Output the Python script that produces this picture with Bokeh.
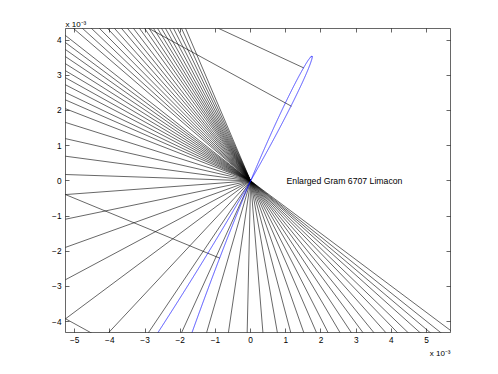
import numpy as np
from bokeh.plotting import figure
from bokeh.models import Range1d, LinearAxis, FixedTicker, Title
from bokeh.core.properties import value
from bokeh.embed import file_html
from bokeh.resources import INLINE

# ---------------- data (all lengths in units of 1e-3) ----------------
# directions (degrees) of the black rays leaving the node at the origin
fan_angles_deg = [
    113.10, 114.36, 115.59, 116.81, 118.00, 119.17, 120.29, 121.39, 122.48,
    123.67, 124.82, 126.07, 127.52, 128.91, 130.25, 131.75, 133.18, 134.74,
    136.22, 137.79, 139.28,
    141.86, 143.24, 144.65, 146.14, 147.67, 149.25, 150.88, 152.57, 154.49,
    156.38, 158.71, 162.48, 167.15, 172.42, 178.04, 184.24, 191.71, 199.77,
    208.11, 216.70,
    226.92, 236.06, 245.55, 253.83, 261.68, 268.70, 274.64, 280.00, 284.82,
    289.31, 293.46, 297.04, 300.51, 303.57, 306.51, 309.08, 311.70, 314.06,
    316.05, 318.14, 319.80, 321.40, 323.19,
]
# extra black segments: start point on the limacon and direction (degrees)
extra_x = [1.51, 1.16, -0.87, -3.13]
extra_y = [3.21, 2.12, -2.20, -5.09]
extra_angles_deg = [155.1, 151.35, 157.6, 151.2]

# limacon r = b + a*cos(phi), rotated
limacon_a = 2179.4
limacon_b = 2175.45
limacon_rot_deg = 63.8

x_lim = [-5.26, 5.68]
y_lim = [-4.31, 4.33]
x_ticks = [-5, -4, -3, -2, -1, 0, 1, 2, 3, 4, 5]
y_ticks = [-4, -3, -2, -1, 0, 1, 2, 3, 4]

title_text = "Enlarged Gram 6707 Limacon"
title_x = [1.02]
title_y = [0.0]
scale_text = "x 10\u207b\u00b3"

FONT = "Liberation Sans"
RAY_LEN = 40.0

# ---------------- figure ----------------
p = figure(width=490, height=366,
           x_range=Range1d(x_lim[0], x_lim[1]), y_range=Range1d(y_lim[0], y_lim[1]),
           output_backend="svg", toolbar_location=None,
           min_border_left=65, min_border_right=40,
           min_border_top=28, min_border_bottom=34,
           background_fill_color="white", border_fill_color="white")
p.grid.visible = False
p.outline_line_color = None

def lbl(v):
    return ("\u2212%d" % (-v)) if v < 0 else "%d" % v

p.add_layout(LinearAxis(), "above")
p.add_layout(LinearAxis(), "right")

for ax in p.xaxis:
    ax.ticker = FixedTicker(ticks=x_ticks)
    ax.major_label_overrides = {t: lbl(t) for t in x_ticks}
for ax in p.yaxis:
    ax.ticker = FixedTicker(ticks=y_ticks)
    ax.major_label_overrides = {t: lbl(t) for t in y_ticks}

for ax in list(p.xaxis) + list(p.yaxis):
    ax.major_tick_in = 4
    ax.major_tick_out = 0
    ax.minor_tick_line_color = None
    ax.axis_line_color = "black"
    ax.axis_line_width = 0.6
    ax.major_tick_line_color = "black"
    ax.major_tick_line_width = 0.6
    ax.major_label_text_font = FONT
    ax.major_label_text_font_size = "8.3px"
    ax.major_label_text_color = "black"
    ax.major_label_standoff = 4

for ax in (p.above[0], p.right[0]):
    ax.major_label_text_font_size = "1px"
    ax.major_label_text_color = None
    ax.major_label_standoff = 0

# scale notes "x 10^-3" (top left, bottom right)
p.add_layout(Title(text=scale_text, align="left", text_font=FONT,
                   text_font_size="8px", text_font_style="normal",
                   text_color="black", standoff=0, offset=0), "above")
p.add_layout(Title(text=scale_text, align="right", text_font=FONT,
                   text_font_size="8px", text_font_style="normal",
                   text_color="black", standoff=2, offset=0), "below")

# ---------------- fan rays from the node ----------------
ang = np.radians(np.array(fan_angles_deg))
p.segment(x0=np.zeros_like(ang), y0=np.zeros_like(ang),
          x1=RAY_LEN * np.cos(ang), y1=RAY_LEN * np.sin(ang),
          line_color="black", line_width=0.6)

# ---------------- extra segments ----------------
ea = np.radians(np.array(extra_angles_deg))
ex = np.array(extra_x)
ey = np.array(extra_y)
p.segment(x0=ex, y0=ey, x1=ex + RAY_LEN * np.cos(ea), y1=ey + RAY_LEN * np.sin(ea),
          line_color="black", line_width=0.6)

# ---------------- limacon (near its node) ----------------
eps = np.arccos(limacon_b / limacon_a)
phi = np.linspace(np.pi - eps - 0.1, np.pi + eps + 0.1, 5000)
r = limacon_b + limacon_a * np.cos(phi)
rot = np.radians(limacon_rot_deg)
lx = r * np.cos(phi + rot)
ly = r * np.sin(phi + rot)
p.line(lx, ly, line_color="blue", line_width=0.7)

# ---------------- texts ----------------
p.text(x=title_x, y=title_y, text=[title_text], text_font=value(FONT),
       text_font_size="8.7px", text_baseline="middle", text_align="left",
       text_color="black")

open("out.html", "w").write(file_html(p, INLINE))
